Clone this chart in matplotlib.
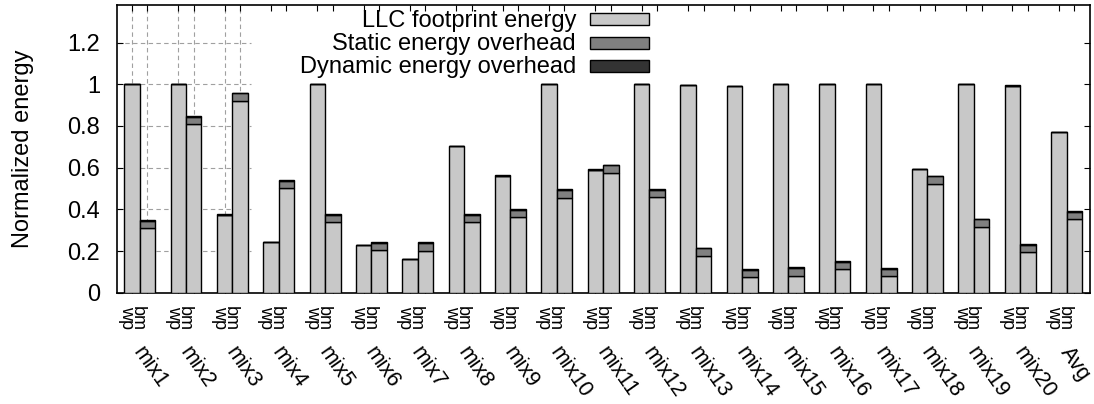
import matplotlib
matplotlib.use('Agg')
import matplotlib.pyplot as plt
import matplotlib.transforms as mtransforms
from matplotlib.patches import Rectangle
import numpy as np

plt.rcParams['font.family'] = ['Liberation Sans', 'DejaVu Sans']

groups = ['mix%d' % i for i in range(1, 21)] + ['Avg']
bar_names = ['wp', 'bm']

# wp bars: LLC footprint only (plus a hair of dynamic on some)
wp_llc = [1.0, 1.0, 0.372, 0.243, 1.0, 0.228, 0.160, 0.702, 0.562, 1.0, 0.590,
          1.0, 0.994, 0.990, 1.0, 1.0, 1.0, 0.593, 1.0, 0.993, 0.771]
wp_static = [0.0] * 21
wp_dyn = [0.001, 0.001, 0.004, 0.002, 0.001, 0.001, 0.002, 0.004, 0.003, 0.001, 0.002,
          0.001, 0.001, 0.001, 0.001, 0.001, 0.001, 0.002, 0.001, 0.001, 0.002]

# bm bars
bm_llc = [0.309, 0.808, 0.920, 0.500, 0.338, 0.205, 0.202, 0.338, 0.362, 0.456, 0.575,
          0.458, 0.176, 0.074, 0.082, 0.112, 0.079, 0.523, 0.315, 0.194, 0.352]
bm_static = [0.037, 0.035, 0.036, 0.034, 0.035, 0.035, 0.038, 0.035, 0.035, 0.035, 0.036,
             0.035, 0.037, 0.035, 0.038, 0.037, 0.035, 0.036, 0.037, 0.036, 0.036]
bm_dyn = [0.003, 0.004, 0.004, 0.006, 0.003, 0.002, 0.002, 0.003, 0.003, 0.005, 0.002,
          0.003, 0.002, 0.003, 0.002, 0.002, 0.003, 0.003, 0.003, 0.002, 0.003]

series = ['LLC footprint energy', 'Static energy overhead', 'Dynamic energy overhead']
colors = ['#c8c8c8', '#808080', '#333333']

W, H = 1094, 404
AX_L, AX_R, AX_T, AX_B = 117, 1090, 5, 292.7

fig = plt.figure(figsize=(W / 100, H / 100), dpi=100)
ax = fig.add_axes([AX_L / W, 1 - AX_B / H, (AX_R - AX_L) / W, (AX_B - AX_T) / H])


def ax_x(px):
    return (px - AX_L) / (AX_R - AX_L)


def ax_y(py):
    return (AX_B - py) / (AX_B - AX_T)


x = np.arange(len(groups)) * 3
xw = x
xb = x + 1

for pos, layers in ((xw, (wp_llc, wp_static, wp_dyn)), (xb, (bm_llc, bm_static, bm_dyn))):
    bottom = np.zeros(len(groups))
    for vals, c in zip(layers, colors):
        vals = np.array(vals)
        ax.bar(pos, vals, width=1.0, bottom=bottom, color=c, edgecolor='black',
               linewidth=1.0, zorder=3)
        bottom = bottom + vals

ax.set_xlim(-0.97, 62.02)
ax.set_ylim(0, 1.38)

# dashed grid, only visible in the upper-left part of the original
grid_right = 7.7
for yv in [0.2, 0.4, 0.6, 0.8, 1.0, 1.2]:
    ax.plot([-0.97, grid_right], [yv, yv], color='#a0a0a0', lw=0.8, ls=(0, (4, 3)), zorder=1)
for xv in [0, 1, 3, 4, 6, 7]:
    ax.plot([xv, xv], [0, 1.38], color='#a0a0a0', lw=0.8, ls=(0, (4, 3)), zorder=1)

ticks = np.sort(np.concatenate([xw, xb]))
ax.set_xticks(ticks)
ax.set_xticklabels([])
ax.set_yticks([0, 0.2, 0.4, 0.6, 0.8, 1.0, 1.2])
ax.set_yticklabels(['0', '0.2', '0.4', '0.6', '0.8', '1', '1.2'], fontsize=17)
ax.tick_params(direction='in', top=True, right=True, length=4, width=0.8)
ax.tick_params(axis='y', pad=12)
for s in ax.spines.values():
    s.set_linewidth(1.2)

ax.set_ylabel('Normalized energy', fontsize=17)
ax.yaxis.set_label_coords(ax_x(34), 0.5)

trans = mtransforms.blended_transform_factory(ax.transData, ax.transAxes)

# wp / bm labels: one rotated two-line text per group ("bm" line ends up on the right)
shift = mtransforms.ScaledTranslation(-7.5 / 100, 0, fig.dpi_scale_trans)
for gx in x:
    ax.text(gx + 0.5, ax_y(306), bar_names[1] + '\n' + bar_names[0],
            transform=trans + shift, rotation=-90, fontsize=13, linespacing=0.5,
            ha='center', va='top', multialignment='left')

for gx, name in zip(x, groups):
    ax.text(gx + 0.05, ax_y(352), name, transform=trans, rotation=-55, fontsize=15.5,
            ha='left', va='baseline', rotation_mode='anchor')

# key: text right-aligned, sample box to its right
text_base = [26.5, 50, 73.5]
box_mid = [19.2, 42.8, 66]
for lab, c, tb, bm in zip(series, colors, text_base, box_mid):
    ax.text(ax_x(576), ax_y(tb), lab, transform=ax.transAxes, fontsize=17,
            ha='right', va='baseline')
    ax.add_patch(Rectangle((ax_x(590), ax_y(bm + 6)), ax_x(649) - ax_x(590),
                           ax_y(bm - 6) - ax_y(bm + 6), transform=ax.transAxes,
                           facecolor=c, edgecolor='black', linewidth=1.0, zorder=4))

fig.savefig('out.png', dpi=100)
